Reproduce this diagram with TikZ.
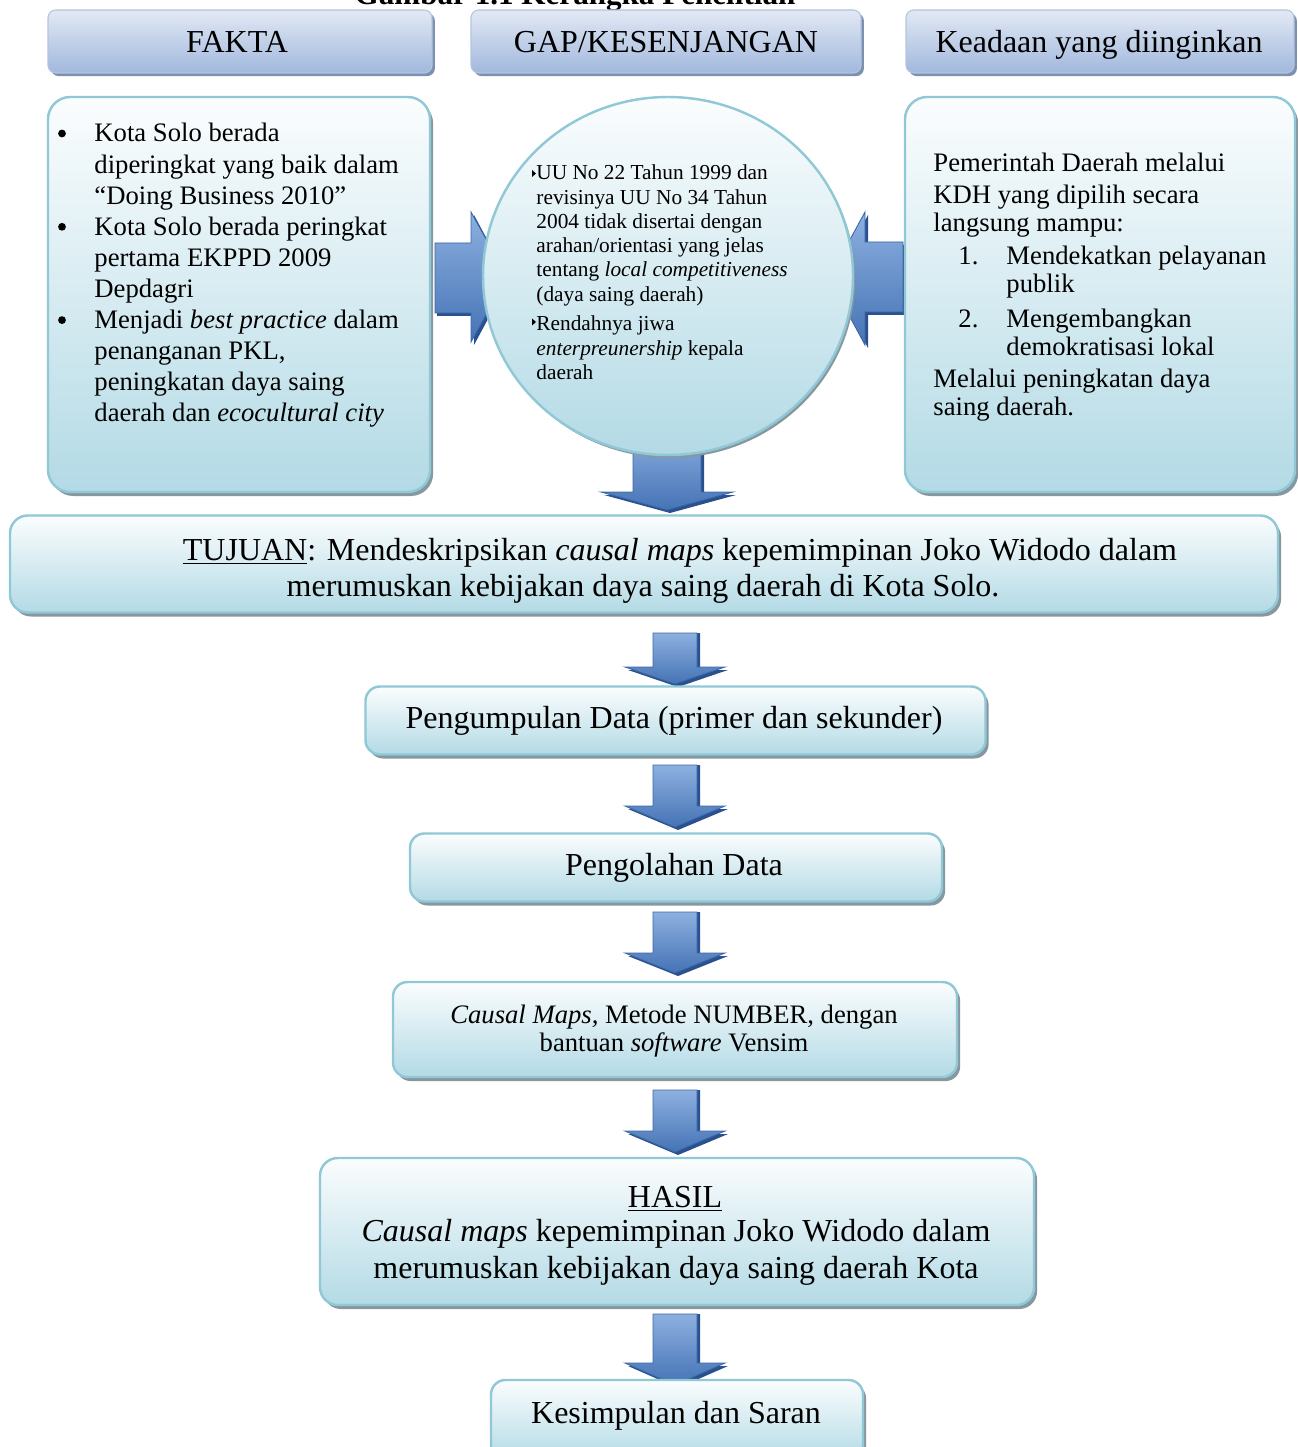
\documentclass[tikz,border=0pt]{standalone}
\usepackage{fontspec}
\setmainfont{Liberation Serif}
\usetikzlibrary{shapes.geometric,shadows}

\definecolor{hdtop}{HTML}{E2E9F4}
\definecolor{hdbot}{HTML}{A1B8DD}
\definecolor{hdline}{HTML}{B4C5DE}
\definecolor{hdshadow}{HTML}{7D90B0}
\definecolor{bxtop}{HTML}{FBFDFE}
\definecolor{bxbot}{HTML}{B3DAE5}
\definecolor{bxline}{HTML}{90C8D6}
\definecolor{bxshadow}{HTML}{8797A0}
\definecolor{arrtop}{HTML}{8DB0E0}
\definecolor{arrbot}{HTML}{4573B5}
\definecolor{arrline}{HTML}{3A67A5}
\definecolor{arrshade}{HTML}{2B5090}

\tikzset{
  sz/.style 2 args={minimum width=#1*0.45pt, minimum height=#2*0.45pt},
  headbox/.style={rectangle, rounded corners=3.5pt, draw=hdline, line width=0.5pt,
    top color=hdtop, bottom color=hdbot, inner sep=0pt,
    drop shadow={shadow xshift=1.3pt, shadow yshift=-1.4pt, fill=hdshadow, opacity=1}},
  panel/.style={rectangle, rounded corners=#1, draw=bxline, line width=1.1pt,
    top color=bxtop, bottom color=bxbot, inner sep=0pt,
    drop shadow={shadow xshift=1.4pt, shadow yshift=-1.8pt, fill=bxshadow, opacity=1}},
  panel/.default=6.5pt,
  roundpanel/.style={ellipse, draw=bxline, line width=1.1pt,
    top color=bxtop, bottom color=bxbot, inner sep=0pt,
    drop shadow={shadow xshift=1pt, shadow yshift=-1.3pt, fill=bxshadow, opacity=1}},
  big/.style={font=\fontsize{14.4}{16.5}\selectfont, inner sep=0pt},
  mid/.style={font=\fontsize{12}{14}\selectfont, inner sep=0pt},
  small/.style={font=\fontsize{9.6}{10.9}\selectfont, inner sep=0pt},
  arrbody/.style={top color=arrtop, bottom color=arrbot, draw=arrline, line width=0.4pt},
  arrshadow/.style={fill=arrshade},
}

% block arrow pointing down: centre x, shaft half width, head half width, top, head base, tip
\newcommand{\blockdown}[6]{%
  \fill[arrshadow] (#1-#2+3,#4) -- (#1+#2+3,#4) -- (#1+#2+3,#5+3) -- (#1+#3+3,#5+3)
      -- (#1+3,#6+3) -- (#1-#3+3,#5+3) -- (#1-#2+3,#5+3) -- cycle;
  \shade[arrbody] (#1-#2,#4) -- (#1+#2,#4) -- (#1+#2,#5) -- (#1+#3,#5)
      -- (#1,#6) -- (#1-#3,#5) -- (#1-#2,#5) -- cycle;
}

\begin{document}
\begin{tikzpicture}[x=0.45pt,y=-0.45pt]
\useasboundingbox (0,0) rectangle (1298,1447);
\fill[white] (0,0) rectangle (1298,1447);

% caption, partly above the page edge
\node[font=\fontsize{14}{16}\selectfont\bfseries, inner sep=0pt, anchor=base] (title) at (575,5) {Gambar 1.1 Kerangka Penelitian};

% ---------- block arrows (drawn first, boxes overlap their ends) ----------
% right-pointing arrow into the circle
\fill[arrshadow] (437,246) -- (474,246) -- (474,215) -- (509,280) -- (474,345) -- (474,316) -- (437,316) -- cycle;
\shade[arrbody] (435,243) -- (471,243) -- (471,212) -- (507,277) -- (471,342) -- (471,313) -- (435,313) -- cycle;
% left-pointing arrow into the circle
\fill[arrshadow] (905,245) -- (868,245) -- (868,215) -- (832,281) -- (868,348) -- (868,315) -- (905,315) -- cycle;
\shade[arrbody] (903,242) -- (865,242) -- (865,212) -- (829,278) -- (865,345) -- (865,312) -- (903,312) -- cycle;

\blockdown{667}{34}{66}{430}{492}{510}
\blockdown{675}{22}{50}{633}{667}{684}
\blockdown{675}{22}{50}{765}{806}{827}
\blockdown{675}{22}{50}{912}{953}{973}
\blockdown{675}{22}{50}{1090}{1131}{1152}
\blockdown{675}{22}{50}{1314}{1363}{1385}

% ---------- header row ----------
\node[headbox, sz={384}{63}] (fakta) at (240,41.5) {};
\node[big, anchor=base] (faktaT) at (237,53) {FAKTA};
\node[headbox, sz={390}{63}] (gaphd) at (666,41.5) {};
\node[big, anchor=base] (gaphdT) at (666,53) {GAP/KESENJANGAN};
\node[headbox, sz={388}{63}] (ideal) at (1100,41.5) {};
\node[big, anchor=base] (idealT) at (1099,53) {Keadaan yang diinginkan};

% ---------- facts panel ----------
\node[panel=10pt, sz={382}{395}] (facts) at (239,294.5) {};
\node[mid, anchor=base west] (factsT) at (94,142) {%
\begin{tabular}[t]{@{}l@{}}
Kota Solo berada\\
diperingkat yang baik dalam\\
“Doing Business 2010”\\
Kota Solo berada peringkat\\
pertama EKPPD 2009\\
Depdagri\\
Menjadi \textit{best practice} dalam\\
penanganan PKL,\\
peningkatan daya saing\\
daerah dan \textit{ecocultural city}
\end{tabular}};
\fill (62,133.5) circle (1.75pt);
\fill (62,226.8) circle (1.75pt);
\fill (62,320.1) circle (1.75pt);

% ---------- desired state panel ----------
\node[panel=10pt, sz={390}{395}] (goal) at (1100,294.5) {};
\node[mid, anchor=base west] (g1) at (933,171.7) {Pemerintah Daerah melalui};
\node[mid, anchor=base west] (g2) at (933,203.3) {KDH yang dipilih secara};
\node[mid, anchor=base west] (g3) at (933,231.7) {langsung mampu:};
\node[mid, anchor=base west] (g4n) at (958,265) {1.};
\node[mid, anchor=base west] (g4) at (1006,265) {Mendekatkan pelayanan};
\node[mid, anchor=base west] (g5) at (1006,292.3) {publik};
\node[mid, anchor=base west] (g6n) at (958,327.3) {2.};
\node[mid, anchor=base west] (g6) at (1006,327.3) {Mengembangkan};
\node[mid, anchor=base west] (g7) at (1006,355.7) {demokratisasi lokal};
\node[mid, anchor=base west] (g8) at (933,387.3) {Melalui peningkatan daya};
\node[mid, anchor=base west] (g9) at (933,415.7) {saing daerah.};

% ---------- gap circle ----------
\node[roundpanel, sz={370}{358}] (gap) at (668,276) {};
\node[small, anchor=base west] (gapT) at (536,180) {%
\begin{tabular}[t]{@{}l@{}}
UU No 22 Tahun 1999 dan\\
revisinya UU No 34 Tahun\\
2004 tidak disertai dengan\\
arahan/orientasi yang jelas\\
tentang \textit{local competitiveness}\\
(daya saing daerah)\\[2.5pt]
Rendahnya jiwa\\
\textit{enterpreunership} kepala\\
daerah
\end{tabular}};
\fill (532,170) -- (536,173.5) -- (532,177) -- cycle;
\fill (532,318.5) -- (536,322) -- (532,325.5) -- cycle;

% ---------- aim ----------
\node[panel=8pt, sz={1268}{97}] (aim) at (644,564) {};
\node[big, anchor=base] (aim1) at (680,560) {\underline{TUJUAN}: Mendeskripsikan \textit{causal maps} kepemimpinan Joko Widodo dalam};
\node[big, anchor=base] (aim2) at (643,596) {merumuskan kebijakan daya saing daerah di Kota Solo.};

% ---------- process steps ----------
\node[panel, sz={620}{68}] (collect) at (675.5,720.5) {};
\node[big, anchor=base] (collectT) at (674,728) {Pengumpulan Data (primer dan sekunder)};

\node[panel, sz={532}{68}] (process) at (676,867.5) {};
\node[big, anchor=base] (processT) at (674,875) {Pengolahan Data};

\node[panel, sz={564}{95}] (method) at (675,1029.5) {};
\node[mid, anchor=base] (method1) at (674,1023) {\textit{Causal Maps,} Metode NUMBER, dengan};
\node[mid, anchor=base] (method2) at (674,1051) {bantuan \textit{software} Vensim};

\node[panel=8pt, sz={714}{147}] (result) at (677,1231.5) {};
\node[big, anchor=base] (result1) at (675,1207) {\underline{HASIL}};
\node[big, anchor=base] (result2) at (676,1241) {\textit{Causal maps} kepemimpinan Joko Widodo dalam};
\node[big, anchor=base] (result3) at (676,1278) {merumuskan kebijakan daya saing daerah Kota};

\node[panel, sz={372}{80}] (closing) at (677,1420) {};
\node[big, anchor=base] (closingT) at (676,1423) {Kesimpulan dan Saran};
\end{tikzpicture}
\end{document}
